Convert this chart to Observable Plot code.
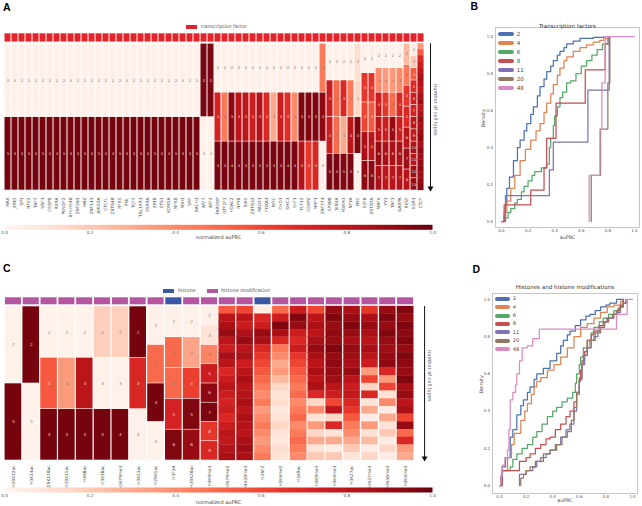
<!DOCTYPE html>
<html><head><meta charset="utf-8">
<script src="https://cdn.jsdelivr.net/npm/d3@7"></script>
<script src="https://cdn.jsdelivr.net/npm/@observablehq/plot@0.6"></script>
<style>
html,body{margin:0;padding:0;background:#fff;}
#root{position:relative;width:642px;height:506px;overflow:hidden;font-family:"DejaVu Sans",sans-serif;color:#444;}
.lt{position:absolute;font-family:"Liberation Sans",Arial,sans-serif;font-weight:bold;font-size:10.5px;color:#000;line-height:1;}
.tx{position:absolute;white-space:nowrap;line-height:1;}
.sw{position:absolute;}
#root svg{position:absolute;}
</style></head><body><div id="root"></div>
<script>
// ---------------- Panel A data: transcription factors ----------------
const tfNames = [
 "MAX","JUND","SP1","NFE2","TAF7","USF1","CEBPB","RXRA","POU2F2","BHLHE40","ZNF263","MAZ","ZNF143","ARID3A",
 "CTCFL","ZBTB40","RFX5","PML","TCF7","TBL1XR1","ESRRA","JUNB","ETS1","KDM5A","NFKB","MXI1","SRF","BACH1",
 "ATF7","ATF3",
 "TARDBP","GTF2F1","HDAC2","NFYB","SIX5","ZBTB33","RAD21","FOXA1","NFIC","CHD1","SMC3","ELF1","TCF12","CEBPZ","NRF1","ZNF274",
 "EP300","SIN3A","FOXM1","NFYA","MYC",
 "E2F6","ZBTB7A",
 "MAFK","YY1","TAF1","GABPA",
 "REST","EGR1","CTCF"];
// normalized auPRC per cell, top (2 cell types) to bottom
const tfValues = [
 [0.03,0.97],[0.03,0.97],[0.03,0.97],[0.03,0.97],[0.03,0.97],[0.03,0.97],[0.03,0.97],
 [0.03,0.97],[0.03,0.97],[0.03,0.97],[0.03,0.97],[0.03,0.97],[0.03,0.97],[0.03,0.97],
 [0.03,0.97],[0.03,0.97],[0.03,0.97],[0.03,0.97],[0.03,0.97],[0.03,0.97],[0.03,0.97],
 [0.03,0.97],[0.03,0.97],[0.03,0.97],[0.03,0.97],[0.03,0.97],[0.03,0.97],[0.03,0.97],
 [0.96,0.02],[0.96,0.02],
 [0.03,0.72,0.96],[0.03,0.45,0.96],[0.03,0.92,0.96],[0.03,0.8,0.96],[0.03,0.8,0.96],[0.03,0.75,0.96],
 [0.03,0.82,0.96],[0.03,0.7,0.96],[0.03,0.3,0.96],[0.03,0.75,0.96],[0.03,0.68,0.96],[0.03,0.4,0.96],
 [0.03,0.95,0.82],[0.03,0.95,0.65],[0.03,0.95,0.7],[0.45,0.92,0.03],
 [0.03,0.75,0.75,0.96],[0.03,0.5,0.5,0.96],[0.03,0.7,0.3,0.94],[0.03,0.45,0.8,0.96],[0.12,0.15,0.95,0.02],
 [0.03,0.65,0.6,0.85,0.92],[0.03,0.65,0.55,0.8,0.92],
 [0.03,0.4,0.75,0.8,0.9,0.85],[0.03,0.35,0.65,0.75,0.85,0.8],[0.03,0.35,0.5,0.9,0.85,0.8],[0.03,0.4,0.7,0.75,0.85,0.82],
 [0.25,0.45,0.65,0.7,0.8,0.88,0.8],
 [0.05,0.2,0.55,0.7,0.75,0.72,0.8,0.78,0.85,0.8,0.88,0.9],
 [0.35,0.55,0.7,0.75,0.8,0.85,0.82,0.78,0.85,0.88,0.8,0.85,0.9,0.85,0.88,0.9,0.85,0.92,0.88,0.9,0.92,0.88,0.9,0.93]
];

// ---------------- Panel C data: histones ----------------
const histNames = ["H2BK12ac","H3K14ac","H2BK120ac","H2BK15ac","H4K8ac","H3K18ac","H3K79me1","H3K23ac","H2BK5ac",
 "H3F3A","H2BK20ac","H3K9me1","H3K79me2","H4K20me1","H2AFZ","H3K4me2","H3K9ac","H3K9me3","H3K4me1","H3K27ac",
 "H3K27me3","H3K36me3","H3K4me3"];
const histKinds = ["mod","mod","mod","mod","mod","mod","mod","mod","mod","histone","mod","mod","mod","mod","histone",
 "mod","mod","mod","mod","mod","mod","mod","mod"];
const histValues = [
 [0.02,0.97],[0.97,0.02],
 [0.02,0.55,0.97],[0.02,0.35,0.97],[0.02,0.8,0.97],[0.18,0.03,0.97],[0.18,0.03,0.97],[0.97,0.7,0.03],
 [0.03,0.5,0.97,0.02],
 [0.03,0.5,0.5,0.72,0.95],[0.03,0.32,0.62,0.95,0.9],
 [0.03,0.1,0.42,0.75,0.92,0.96,0.65,0.7],
 [0.55,0.8,0.85,0.9,0.8,0.75,0.85,0.8,0.7,0.75,0.8,0.75,0.72,0.75,0.7,0.75,0.8,0.78,0.82,0.85],
 [0.6,0.8,0.75,0.85,0.9,0.8,0.85,0.75,0.8,0.85,0.8,0.82,0.85,0.8,0.85,0.82,0.8,0.85,0.88,0.85],
 [0.05,0.7,0.75,0.9,0.85,0.7,0.65,0.6,0.55,0.5,0.45,0.4,0.45,0.35,0.4,0.45,0.4,0.35,0.4,0.45],
 [0.5,0.75,0.95,0.85,0.7,0.45,0.4,0.3,0.35,0.25,0.15,0.1,0.12,0.08,0.1,0.15,0.1,0.08,0.12,0.1],
 [0.75,0.95,0.9,0.75,0.7,0.75,0.65,0.6,0.55,0.5,0.45,0.5,0.4,0.45,0.5,0.4,0.45,0.5,0.45,0.4],
 [0.6,0.8,0.85,0.8,0.85,0.9,0.85,0.8,0.85,0.8,0.85,0.7,0.15,0.4,0.1,0.35,0.15,0.3,0.1,0.2],
 [0.9,0.95,0.9,0.92,0.9,0.95,0.9,0.92,0.9,0.88,0.8,0.75,0.6,0.8,0.15,0.7,0.1,0.3,0.05,0.2],
 [0.85,0.9,0.95,0.9,0.85,0.9,0.88,0.85,0.9,0.8,0.75,0.78,0.7,0.65,0.55,0.45,0.4,0.3,0.2,0.1],
 [0.65,0.85,0.9,0.85,0.8,0.85,0.8,0.75,0.35,0.6,0.15,0.7,0.1,0.3,0.05,0.35,0.1,0.25,0.05,0.15],
 [0.9,0.95,0.9,0.95,0.9,0.88,0.9,0.92,0.7,0.35,0.6,0.1,0.4,0.05,0.3,0.1,0.2,0.05,0.15,0.05],
 [0.95,0.9,0.95,0.92,0.95,0.9,0.95,0.92,0.9,0.95,0.85,0.9,0.8,0.85,0.6,0.9,0.5,0.7,0.35,0.3]
];

// ---------------- Panels B and D: cumulative distributions (auPRC, density) ----------------
const groups = ["2","4","6","8","11","20","48"];
const tfCdf2 = [[0.015,0],[0.02,0.03],[0.03,0.1],[0.04,0.18],[0.06,0.24],[0.09,0.33],[0.12,0.4],[0.14,0.44],[0.17,0.49],[0.19,0.53],[0.22,0.58],[0.24,0.62],[0.27,0.68],[0.29,0.73],[0.32,0.77],[0.34,0.81],[0.37,0.84],[0.39,0.87],[0.42,0.9],[0.44,0.92],[0.47,0.94],[0.49,0.96],[0.54,0.975],[0.59,0.99],[0.69,0.996],[0.77,1.0]];
const tfCdf4 = [[0.01,0],[0.02,0.05],[0.04,0.11],[0.07,0.18],[0.1,0.25],[0.14,0.33],[0.18,0.39],[0.22,0.44],[0.26,0.49],[0.29,0.53],[0.32,0.59],[0.34,0.64],[0.37,0.69],[0.39,0.74],[0.42,0.79],[0.44,0.83],[0.47,0.87],[0.49,0.89],[0.54,0.92],[0.59,0.94],[0.64,0.955],[0.69,0.97],[0.74,0.98],[0.77,0.99],[0.8,1.0]];
const tfCdf6 = [[0.03,0],[0.03,0.02],[0.05,0.05],[0.07,0.07],[0.1,0.1],[0.12,0.12],[0.15,0.16],[0.17,0.19],[0.2,0.22],[0.23,0.25],[0.25,0.27],[0.3,0.29],[0.34,0.31],[0.36,0.4],[0.37,0.45],[0.39,0.52],[0.4,0.57],[0.42,0.62],[0.44,0.67],[0.46,0.7],[0.49,0.75],[0.52,0.76],[0.56,0.8],[0.6,0.84],[0.64,0.87],[0.68,0.9],[0.72,0.93],[0.76,0.96],[0.8,0.99],[0.81,1.0]];
const tfCdf8 = [[0.0,0],[0.02,0.09],[0.22,0.17],[0.32,0.29],[0.34,0.45],[0.41,0.64],[0.63,0.82],[0.78,0.96],[0.81,1.0]];
const tfCdf11 = [[0.03,0],[0.03,0.14],[0.36,0.28],[0.39,0.43],[0.65,0.71],[0.81,1.0]];
const tfCdf20 = [[0.675,0],[0.675,0.25],[0.745,0.5],[0.8,0.75],[0.815,1.0]];
const tfCdf48 = [[0.66,0],[0.66,0.25],[0.74,0.5],[0.755,0.75],[0.78,1.0],[1.0,1.0]];

const hCdf2 = [[0,0],[0.01,0.05],[0.02,0.1],[0.045,0.15],[0.08,0.26],[0.1,0.3],[0.13,0.38],[0.16,0.43],[0.18,0.46],[0.21,0.5],[0.23,0.53],[0.26,0.57],[0.28,0.6],[0.33,0.63],[0.38,0.67],[0.43,0.71],[0.46,0.75],[0.48,0.78],[0.51,0.81],[0.53,0.83],[0.57,0.86],[0.61,0.89],[0.65,0.91],[0.68,0.92],[0.72,0.94],[0.76,0.96],[0.8,0.97],[0.83,0.98],[0.88,1.0],[0.93,1.0]];
const hCdf4 = [[0,0],[0.02,0.08],[0.06,0.15],[0.09,0.22],[0.11,0.28],[0.16,0.35],[0.19,0.4],[0.21,0.44],[0.24,0.49],[0.26,0.53],[0.28,0.56],[0.31,0.58],[0.36,0.62],[0.41,0.65],[0.46,0.69],[0.51,0.74],[0.56,0.8],[0.61,0.85],[0.66,0.87],[0.71,0.9],[0.76,0.93],[0.81,0.96],[0.86,0.97],[0.91,0.99],[0.93,1.0]];
const hCdf6 = [[0.01,0],[0.02,0.08],[0.08,0.1],[0.1,0.14],[0.13,0.17],[0.17,0.2],[0.21,0.22],[0.25,0.26],[0.28,0.29],[0.32,0.33],[0.36,0.37],[0.4,0.4],[0.43,0.42],[0.47,0.45],[0.51,0.47],[0.55,0.5],[0.57,0.55],[0.58,0.6],[0.6,0.65],[0.61,0.69],[0.63,0.74],[0.66,0.78],[0.69,0.82],[0.71,0.85],[0.75,0.88],[0.78,0.9],[0.82,0.92],[0.86,0.94],[0.9,0.96],[0.93,1.0]];
const hCdf8 = [[0,0],[0.02,0.08],[0.13,0.08],[0.15,0.13],[0.2,0.15],[0.23,0.17],[0.27,0.2],[0.31,0.22],[0.35,0.25],[0.38,0.26],[0.42,0.3],[0.46,0.33],[0.5,0.37],[0.53,0.4],[0.56,0.45],[0.58,0.5],[0.6,0.56],[0.61,0.62],[0.62,0.67],[0.64,0.72],[0.66,0.78],[0.69,0.81],[0.71,0.83],[0.75,0.86],[0.78,0.88],[0.82,0.9],[0.86,0.92],[0.89,0.95],[0.91,0.97],[0.93,1.0]];
const hCdf11 = [[0.15,0],[0.15,0.06],[0.2,0.08],[0.25,0.1],[0.28,0.13],[0.31,0.15],[0.35,0.17],[0.38,0.19],[0.42,0.22],[0.46,0.26],[0.5,0.3],[0.53,0.33],[0.56,0.4],[0.58,0.49],[0.6,0.57],[0.62,0.65],[0.64,0.7],[0.66,0.74],[0.69,0.78],[0.71,0.8],[0.74,0.83],[0.76,0.85],[0.79,0.88],[0.81,0.9],[0.85,0.92],[0.88,0.93],[0.91,0.96],[0.93,0.98],[0.96,1.0]];
const hCdf20 = [[0.16,0],[0.16,0.04],[0.18,0.06],[0.2,0.08],[0.23,0.1],[0.27,0.13],[0.33,0.17],[0.38,0.19],[0.43,0.22],[0.47,0.26],[0.51,0.29],[0.54,0.35],[0.56,0.42],[0.58,0.5],[0.6,0.58],[0.62,0.65],[0.63,0.7],[0.66,0.74],[0.68,0.78],[0.72,0.82],[0.76,0.85],[0.79,0.88],[0.81,0.9],[0.85,0.92],[0.88,0.94],[0.91,0.96],[0.93,0.98],[0.95,1.0]];
const hCdf48 = [[0,0],[0.01,0.05],[0.02,0.11],[0.04,0.15],[0.06,0.19],[0.07,0.3],[0.08,0.46],[0.1,0.5],[0.12,0.54],[0.13,0.6],[0.15,0.67],[0.17,0.74],[0.21,0.75],[0.25,0.79],[0.3,0.84],[0.88,0.92],[0.96,1.0],[1.0,1.0]];

const axisTicks = [0, 0.2, 0.4, 0.6, 0.8, 1.0];
const palette = ["#4c72b0","#dd8452","#55a868","#c44e52","#8172b3","#937860","#da8bc3"];
const tfColor = "#e3242b", histColor = "#3a56a5", modColor = "#b4559f";

// ---------------- helpers ----------------
const root = document.getElementById("root");
function put(el, left, top) { el.style.left = left + "px"; el.style.top = top + "px"; root.appendChild(el); return el; }
function addText(txt, x, cy, size, color, cls) {
  const d = document.createElement("div"); d.className = cls || "tx"; d.textContent = txt;
  d.style.fontSize = size + "px"; if (color) d.style.color = color;
  return put(d, x, cy - size * 0.5);
}
function addBox(x, y, w, h, color, radius) {
  const d = document.createElement("div"); d.className = "sw";
  d.style.width = w + "px"; d.style.height = h + "px"; d.style.background = color;
  if (radius) d.style.borderRadius = radius + "px";
  return put(d, x, y);
}
const baseStyle = {fontFamily: "DejaVu Sans, sans-serif", background: "transparent", overflow: "visible", fontSize: "4.3px", color: "#444"};

function cellTable(names, values) {
  return names.flatMap((name, i) => values[i].map((v, j, a) => ({name, v, k: j + 2, n: a.length, y1: j / a.length, y2: (j + 1) / a.length})));
}

function heatmap({names, values, top, bodyTop, bodyBottom, stripTop, stripBottom, marginRight, height, inset, stripInset, labelPad, arrowDx, cellFont, stripMarks}) {
  const cells = cellTable(names, values);
  const span = bodyBottom - bodyTop;
  const few = cells.filter(d => d.n <= 12);
  const many = cells.filter(d => d.n > 12);
  const last = names[names.length - 1];
  return Plot.plot({
    width: 470, height, marginLeft: 4, marginRight, marginTop: 20, marginBottom: height - (bodyBottom - top),
    style: baseStyle,
    x: {domain: names, padding: 0, round: false},
    y: {domain: [0, 1], range: [bodyTop - top, bodyBottom - top], axis: null},
    color: {type: "linear", scheme: "reds", domain: [0, 1]},
    marks: [
      Plot.barY(few, {x: "name", y1: "y1", y2: "y2", fill: "v", insetLeft: inset, insetRight: inset, insetTop: 0.3, insetBottom: 0.3}),
      Plot.barY(many, {x: "name", y1: "y1", y2: "y2", fill: "v", stroke: "v", strokeWidth: 0.3, insetLeft: inset + 0.15, insetRight: inset + 0.15}),
      ...stripMarks((stripTop - bodyTop) / span, (stripBottom - bodyTop) / span, stripInset),
      Plot.text(few.filter(d => d.v >= 0.55), {x: "name", y: d => (d.y1 + d.y2) / 2, text: "k", fill: "#f6dcd3", fontSize: cellFont}),
      Plot.text(few.filter(d => d.v < 0.55), {x: "name", y: d => (d.y1 + d.y2) / 2, text: "k", fill: "#7a7a7a", fontSize: cellFont}),
      Plot.axisX({tickRotate: -90, tickSize: 0, tickPadding: labelPad, fontSize: 4.3, fill: "#444", label: null}),
      Plot.ruleX([last], {y1: 0, y2: 0.985, dx: arrowDx, stroke: "#111", strokeWidth: 1}),
      Plot.dot([last], {x: d => d, y: 0.985, dx: arrowDx, symbol: "triangle", rotate: 180, fill: "#111", stroke: "none", r: 2.2}),
      Plot.text(["number of cell types"], {x: () => last, y: 0.45, text: d => d, dx: arrowDx + 5, rotate: 90, fontSize: 5, fill: "#555"})
    ]
  });
}

function colorbar(height, marginTop, marginBottom, titleDy) {
  return Plot.plot({
    width: 470, height, marginLeft: 4, marginRight: 38, marginTop, marginBottom,
    style: baseStyle,
    x: {domain: [0, 1]},
    y: {domain: [0, 1], axis: null},
    color: {type: "linear", scheme: "reds", domain: [0, 1]},
    marks: [
      Plot.raster({x1: 0, x2: 1, y1: 0, y2: 1, fill: (x, y) => x, pixelSize: 1}),
      Plot.axisX({ticks: axisTicks, tickFormat: ".1f", tickSize: 0, tickPadding: 1.5, fontSize: 4.2, fill: "#555", label: null}),
      Plot.text(["normalized auPRC"], {text: d => d, frameAnchor: "bottom", dy: titleDy, fontSize: 5, fill: "#444"})
    ]
  });
}

function cdfPlot({series, width, height, marginLeft, marginRight, marginTop, marginBottom, xdom, ydom, title, titleDy, xlabDy, ylabDx}) {
  const rows = series.flatMap((pts, i) => pts.map(([x, y]) => ({g: groups[i], x, y})));
  return Plot.plot({
    width, height, marginLeft, marginRight, marginTop, marginBottom,
    style: baseStyle,
    x: {domain: xdom},
    y: {domain: ydom},
    color: {type: "ordinal", domain: groups, range: palette},
    marks: [
      Plot.frame({stroke: "#b8b8b8", strokeWidth: 0.8}),
      Plot.axisX({ticks: axisTicks, tickFormat: ".1f", tickSize: 0, tickPadding: 1.5, fontSize: 4, fill: "#555", label: null}),
      Plot.axisY({ticks: axisTicks, tickFormat: ".1f", tickSize: 0, tickPadding: 2.5, fontSize: 4, fill: "#555", label: null}),
      Plot.line(rows, {x: "x", y: "y", z: "g", stroke: "g", curve: "step-after", strokeWidth: 1.25}),
      Plot.text([title], {text: d => d, frameAnchor: "top", dy: titleDy, fontSize: 5.6, fill: "#333"}),
      Plot.text(["auPRC"], {text: d => d, frameAnchor: "bottom", dy: xlabDy, fontSize: 4.8, fill: "#444"}),
      Plot.text(["Density"], {text: d => d, frameAnchor: "left", dx: ylabDx, rotate: -90, fontSize: 4.8, fill: "#444"})
    ]
  });
}

// ---------------- Panel A ----------------
const plotA = heatmap({
  names: tfNames, values: tfValues, top: 0, bodyTop: 43.3, bodyBottom: 190, stripTop: 33.3, stripBottom: 41.6,
  marginRight: 46, height: 222, inset: 0.5, stripInset: 0.5, labelPad: 7, arrowDx: 9.5, cellFont: 3.8,
  stripMarks: (s1, s2, si) => [Plot.barY(tfNames, {x: d => d, y1: s1, y2: s2, fill: tfColor, insetLeft: si, insetRight: si})]
});
put(plotA, 0, 0);
const cbA = colorbar(26, 4.3, 26 - 9.3, 9.4);
put(cbA, 0, 220);

// ---------------- Panel C ----------------
const plotC = heatmap({
  names: histNames, values: histValues, top: 260, bodyTop: 306, bodyBottom: 460, stripTop: 297.3, stripBottom: 304.3,
  marginRight: 56, height: 226, inset: 0.6, stripInset: 0.9, labelPad: 5, arrowDx: 19, cellFont: 4.2,
  stripMarks: (s1, s2, si) => [
    Plot.barY(histNames.filter((d, i) => histKinds[i] === "mod"), {x: d => d, y1: s1, y2: s2, fill: modColor, insetLeft: si, insetRight: si}),
    Plot.barY(histNames.filter((d, i) => histKinds[i] === "histone"), {x: d => d, y1: s1, y2: s2, fill: histColor, insetLeft: si, insetRight: si})
  ]
});
put(plotC, 0, 260);
const cbC = colorbar(24, 5, 14, 11);
put(cbC, 0, 482);

// ---------------- Panel B ----------------
const plotB = cdfPlot({
  series: [tfCdf2, tfCdf4, tfCdf6, tfCdf8, tfCdf11, tfCdf20, tfCdf48],
  width: 162, height: 245, marginLeft: 15, marginRight: 3, marginTop: 27, marginBottom: 18,
  xdom: [-0.045, 1.038], ydom: [-0.032, 1.049], title: "Transcription factors", titleDy: -3.7, xlabDy: 11, ylabDx: -12
});
put(plotB, 480, 0);

// ---------------- Panel D ----------------
const plotD = cdfPlot({
  series: [hCdf2, hCdf4, hCdf6, hCdf8, hCdf11, hCdf20, hCdf48],
  width: 182, height: 246, marginLeft: 32, marginRight: 5, marginTop: 33, marginBottom: 13,
  xdom: [-0.053, 1.038], ydom: [-0.043, 1.032], title: "Histones and histone modifications", titleDy: -8.7, xlabDy: 8.7, ylabDx: -11.3
});
put(plotD, 460, 260);

// ---------------- legends & panel letters ----------------
addBox(186, 25, 11, 4.3, tfColor);
addText("transcription factor", 201, 27.2, 4.8, "#555");
addBox(163, 289, 10.5, 4, histColor);
addText("histone", 178, 291, 4.8, "#555");
addBox(207, 289, 10.5, 4, modColor);
addText("histone modification", 221, 291, 4.8, "#555");

groups.forEach((g, i) => {
  addBox(498.3, 34.3 + 9 * i - 2.15, 15.6, 4.3, palette[i], 2.15);
  addText(g, 516.8, 34.3 + 9 * i, 5.6, "#444");
  addBox(495, 299 + 8.35 * i - 2, 15, 4, palette[i], 2);
  addText(g, 512.7, 299 + 8.35 * i, 5.2, "#444");
});

[["A", 3, 1.6], ["B", 470.5, 1.4], ["C", 3, 262.6], ["D", 472.5, 264]].forEach(([t, x, y]) => {
  const d = document.createElement("div"); d.className = "lt"; d.textContent = t; put(d, x, y);
});
</script></body></html>
